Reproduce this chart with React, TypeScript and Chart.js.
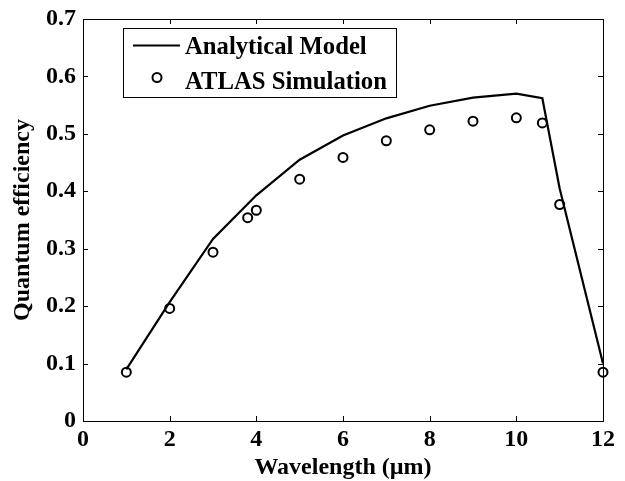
import React, { useEffect, useRef } from "react";
import { Chart, registerables } from "chart.js";

Chart.register(...registerables);

// Analytical model curve
const wavelengthModel = [1, 2, 3, 4, 5, 6, 7, 8, 9, 10, 10.6, 11, 12];
const efficiencyModel = [0.09, 0.207, 0.317, 0.393, 0.455, 0.497, 0.527, 0.549, 0.563, 0.57, 0.562, 0.405, 0.1];

// ATLAS device simulation points
const wavelengthAtlas = [1, 2, 3, 3.8, 4, 5, 6, 7, 8, 9, 10, 10.6, 11, 12];
const efficiencyAtlas = [0.085, 0.196, 0.294, 0.354, 0.367, 0.421, 0.459, 0.488, 0.507, 0.522, 0.528, 0.519, 0.377, 0.085];

const xTickValues = [0, 2, 4, 6, 8, 10, 12];
const yTickValues = [0, 0.1, 0.2, 0.3, 0.4, 0.5, 0.6, 0.7];
const yTickLabels = ["0", "0.1", "0.2", "0.3", "0.4", "0.5", "0.6", "0.7"];

const seriesNames = ["Analytical Model", "ATLAS Simulation"];
const xTitle = "Wavelength (\u00b5m)";
const yTitle = "Quantum efficiency";

const FAMILY = "'Liberation Serif', 'Times New Roman', serif";
const FONT_SIZE = 24;
const LEGEND_FONT_SIZE = 24.7;
const TICK_LEN = 5;

// Box around the plot area with inward tick marks on all four sides
const framePlugin = {
  id: "frame",
  afterDatasetsDraw(chart: any) {
    const { ctx, chartArea } = chart;
    const { left, right, top, bottom } = chartArea;
    const xs = chart.scales.x;
    const ys = chart.scales.y;
    ctx.save();
    ctx.strokeStyle = "#000";
    ctx.lineWidth = 1;
    ctx.strokeRect(Math.round(left) + 0.5, Math.round(top) + 0.5, Math.round(right - left), Math.round(bottom - top));
    ctx.beginPath();
    for (const v of xTickValues) {
      const px = Math.round(xs.getPixelForValue(v)) + 0.5;
      ctx.moveTo(px, bottom);
      ctx.lineTo(px, bottom - TICK_LEN);
      ctx.moveTo(px, top);
      ctx.lineTo(px, top + TICK_LEN);
    }
    for (const v of yTickValues) {
      const py = Math.round(ys.getPixelForValue(v)) + 0.5;
      ctx.moveTo(left, py);
      ctx.lineTo(left + TICK_LEN, py);
      ctx.moveTo(right, py);
      ctx.lineTo(right - TICK_LEN, py);
    }
    ctx.stroke();
    ctx.restore();
  },
};

// Legend box in the upper-left of the axes
const legendPlugin = {
  id: "boxLegend",
  afterDraw(chart: any) {
    const { ctx } = chart;
    const bx = 123.5, by = 28.5, bw = 273, bh = 69;
    ctx.save();
    ctx.fillStyle = "#fff";
    ctx.fillRect(bx, by, bw, bh);
    ctx.strokeStyle = "#000";
    ctx.lineWidth = 1;
    ctx.strokeRect(bx, by, bw, bh);

    ctx.lineWidth = 2;
    ctx.beginPath();
    ctx.moveTo(133, 45.5);
    ctx.lineTo(180, 45.5);
    ctx.stroke();

    ctx.beginPath();
    ctx.arc(157, 77.5, 4.5, 0, Math.PI * 2);
    ctx.stroke();

    ctx.fillStyle = "#000";
    ctx.font = `bold ${LEGEND_FONT_SIZE}px ${FAMILY}`;
    ctx.textAlign = "left";
    ctx.textBaseline = "alphabetic";
    ctx.fillText(seriesNames[0], 185, 54);
    ctx.fillText(seriesNames[1], 185, 89);
    ctx.restore();
  },
};

export default function App() {
  const canvasRef = useRef<HTMLCanvasElement | null>(null);

  useEffect(() => {
    const canvas = canvasRef.current;
    if (!canvas) return;
    const tickFont = { family: FAMILY, size: FONT_SIZE, weight: "bold" as const, lineHeight: 1 };

    const chart = new Chart(canvas, {
      type: "scatter",
      data: {
        datasets: [
          {
            label: seriesNames[0],
            data: wavelengthModel.map((x, i) => ({ x, y: efficiencyModel[i] })),
            showLine: true,
            borderColor: "#000",
            borderWidth: 2.2,
            pointRadius: 0,
            tension: 0,
            clip: false as any,
          },
          {
            label: seriesNames[1],
            data: wavelengthAtlas.map((x, i) => ({ x, y: efficiencyAtlas[i] })),
            showLine: false,
            pointRadius: 4.5,
            pointBorderWidth: 2,
            pointBorderColor: "#000",
            pointBackgroundColor: "rgba(0,0,0,0)",
            clip: false as any,
          },
        ],
      },
      options: {
        responsive: false,
        animation: false,
        devicePixelRatio: 1,
        layout: { padding: { top: 17, right: 22, left: 0, bottom: 0 } },
        plugins: {
          legend: { display: false },
          tooltip: { enabled: false },
        },
        scales: {
          x: {
            type: "linear",
            min: 0,
            max: 12,
            afterBuildTicks: (s: any) => {
              s.ticks = xTickValues.map((value) => ({ value }));
            },
            afterFit: (s: any) => {
              s.height = 60;
            },
            grid: { display: false, drawTicks: false },
            border: { display: false },
            ticks: {
              color: "#000",
              font: tickFont,
              padding: 7,
              maxRotation: 0,
              autoSkip: false,
              callback: (v: any) => String(v),
            },
            title: {
              display: true,
              text: xTitle,
              color: "#000",
              font: tickFont,
              padding: { top: 0, bottom: 1 },
            },
          },
          y: {
            type: "linear",
            min: 0,
            max: 0.7,
            afterBuildTicks: (s: any) => {
              s.ticks = yTickValues.map((value) => ({ value }));
            },
            afterFit: (s: any) => {
              s.width = 83;
            },
            grid: { display: false, drawTicks: false },
            border: { display: false },
            ticks: {
              color: "#000",
              font: tickFont,
              padding: 7,
              autoSkip: false,
              callback: (v: any, i: number) => yTickLabels[i],
            },
            title: {
              display: true,
              text: yTitle,
              color: "#000",
              font: tickFont,
              padding: { top: 11, bottom: 0 },
            },
          },
        },
      },
      plugins: [framePlugin, legendPlugin],
    });

    return () => chart.destroy();
  }, []);

  return (
    <div style={{ position: "absolute", left: 0, top: 0, width: 625, height: 481, background: "#fff" }}>
      <canvas ref={canvasRef} width={625} height={481} style={{ display: "block" }} />
    </div>
  );
}
